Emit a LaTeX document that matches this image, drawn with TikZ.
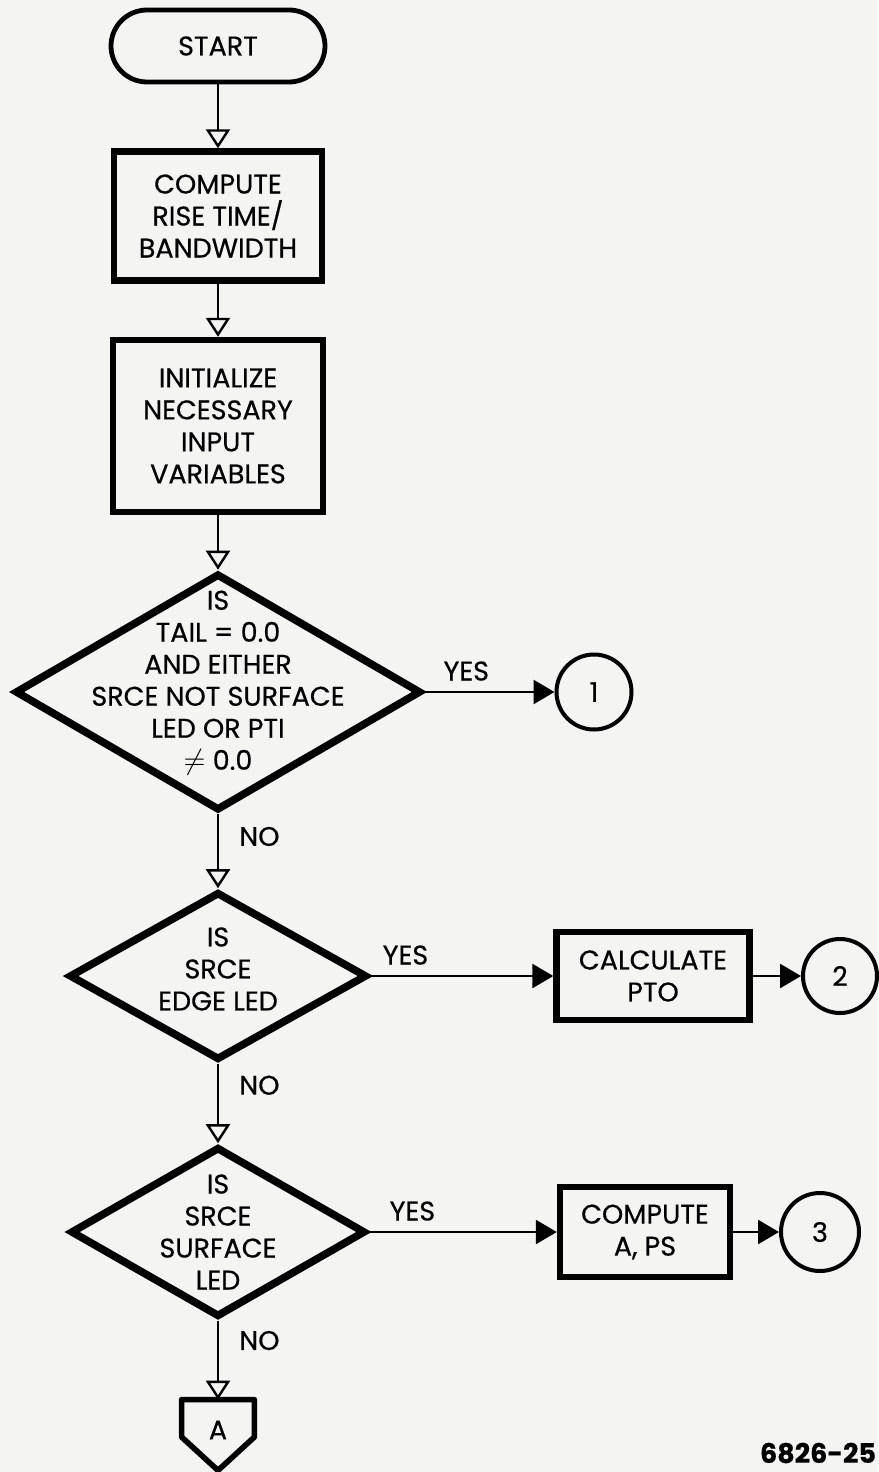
\documentclass[tikz,border=0pt]{standalone}
\usepackage{fontspec}
\setmainfont{Poppins}[FakeBold=0.5]
\usepackage{tikz}
\usetikzlibrary{shapes,arrows.meta,calc}
\definecolor{paper}{RGB}{244,244,243}

\begin{document}
\begin{tikzpicture}[x=0.5pt, y=-0.5pt,
    every node/.style={font=\fontsize{13.5}{16}\selectfont, align=center},
    startbox/.style={draw, line width=2.4pt, rounded corners=18pt, minimum width=107pt, minimum height=36pt},
    procbox/.style={draw, line width=3.2pt, inner sep=0pt},
    decision/.style={draw, diamond, line width=3.8pt, inner sep=0pt},
    conn/.style={draw, circle, line width=2pt, inner sep=0pt},
    down/.style={line width=1.3pt, -{Triangle[open, length=9.5pt, width=12pt, line width=1.2pt]}},
    across/.style={line width=1.3pt, -{Triangle[length=10.5pt, width=12pt]}},
    lbl/.style={inner sep=2pt}]
    \fill[paper] (0,0) rectangle (878,1472);
    \useasboundingbox (0,0) rectangle (878,1472);

    % main column
    \node[startbox] (start) at (218,46) {START};
    \node[procbox, minimum width=104pt, minimum height=64.5pt] (rise) at (218,216) {COMPUTE\\RISE TIME/\\BANDWIDTH};
    \node[procbox, minimum width=105pt, minimum height=86pt] (init) at (218,426) {INITIALIZE\\NECESSARY\\INPUT\\VARIABLES};
    \node[decision, minimum width=203pt, minimum height=118.5pt,
          label={[yshift=4.5pt]center:IS\\TAIL = 0.0\\AND EITHER\\SRCE NOT SURFACE\\LED OR PTI\\$\neq$ 0.0}] (tail) at (218,692) {};
    \node[decision, minimum width=149pt, minimum height=84pt,
          label={[yshift=3.5pt]center:IS\\SRCE\\EDGE LED}] (edge) at (218,976) {};
    \node[decision, minimum width=147.5pt, minimum height=85pt,
          label={center:IS\\SRCE\\SURFACE\\LED}] (surf) at (218,1232) {};
    \node[minimum width=36pt, minimum height=30pt, inner sep=0pt] (offA) at (218,1430) {A};
    \draw[line width=2.8pt, line join=round] (offA.north west) -- (offA.north east) -- ($(offA.east)+(0,7)$)
        -- ($(offA.south)+(0,10)$) -- ($(offA.west)+(0,7)$) -- cycle;

    % yes branches
    \node[conn, minimum size=37.5pt] (c1) at (594,692) {1};
    \node[procbox, minimum width=96.5pt, minimum height=44pt] (pto) at (653,976) {CALCULATE\\PTO};
    \node[conn, minimum size=37pt] (c2) at (840,976) {2};
    \node[procbox, minimum width=85pt, minimum height=45pt] (aps) at (645,1232) {COMPUTE\\A, PS};
    \node[conn, minimum size=39pt] (c3) at (820,1232) {3};

    \draw[down] (start) -- (rise);
    \draw[down] (rise) -- (init);
    \draw[down] (init) -- (tail);
    \draw[down] (tail) -- node[lbl, right, pos=0.3, xshift=8pt]{NO} (edge);
    \draw[down] (edge) -- node[lbl, right, pos=0.27, xshift=8pt]{NO} (surf);
    \draw[down] (surf) -- node[lbl, right, pos=0.25, xshift=8pt]{NO} (offA);

    \draw[across] (tail.east) -- node[lbl, above, pos=0.32, yshift=3pt]{YES} (c1);
    \draw[across] (edge.east) -- node[lbl, above, pos=0.19, yshift=3pt]{YES} (pto);
    \draw[across] (pto) -- (c2);
    \draw[across] (surf.east) -- node[lbl, above, pos=0.23, yshift=3pt]{YES} (aps);
    \draw[across] (aps) -- (c3);

    \node[font=\fontsize{13.5}{16}\selectfont\bfseries] (fig) at (818,1453) {6826-25};
\end{tikzpicture}
\end{document}
